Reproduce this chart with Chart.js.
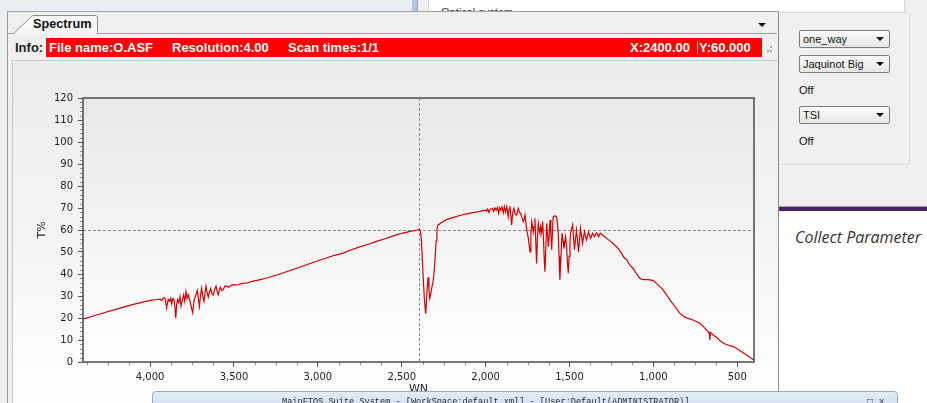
<!DOCTYPE html>
<html><head><meta charset="utf-8">
<script src="https://cdn.jsdelivr.net/npm/chart.js@4.4.0/dist/chart.umd.min.js"></script>
<style>
html,body{margin:0;padding:0;}
body{width:927px;height:403px;position:relative;overflow:hidden;background:#f0f0f0;font-family:"Liberation Sans",Arial,sans-serif;}
.abs{position:absolute;}
.dd{position:absolute;width:91px;height:18px;border:1px solid #7d7d7d;border-radius:2px;background:linear-gradient(#fbfbfb,#e6e6e6);font-size:11px;line-height:16px;padding-left:3px;box-sizing:border-box;color:#111;}
.dd .arr{position:absolute;right:5px;top:6px;width:0;height:0;border-left:4px solid transparent;border-right:4px solid transparent;border-top:4px solid #111;}
.info{position:absolute;top:38px;color:#fff;font-weight:bold;font-size:13px;line-height:19px;white-space:nowrap;}
.off{position:absolute;left:799px;font-size:11px;color:#111;}
</style></head><body>

<!-- top strip -->
<div class="abs" style="left:0;top:0;width:412px;height:12px;background:#eaeef3;"></div>
<div class="abs" style="left:412px;top:0;width:5px;height:12px;background:#b3c4db;border-right:1px solid #8ea3c0;"></div>
<div class="abs" style="left:428px;top:-2px;width:475px;height:14px;background:#fff;border:1px solid #d6d6d6;overflow:hidden;">
  <div class="abs" style="left:12px;top:7px;font-size:11px;color:#333;">Optical system</div>
</div>

<!-- right panel -->
<div class="abs" style="left:778px;top:12px;width:146px;height:195px;background:#f0f0f0;"></div>
<div class="abs" style="left:772px;top:12px;width:136px;height:151px;border:1px solid #dadada;border-radius:3px;background:#f0f0f0;"></div>
<div class="dd" style="left:799px;top:30px;">one_way<span class="arr"></span></div>
<div class="dd" style="left:799px;top:55px;">Jaquinot Big<span class="arr"></span></div>
<div class="off" style="top:84px;">Off</div>
<div class="dd" style="left:799px;top:106px;">TSI<span class="arr"></span></div>
<div class="off" style="top:135px;">Off</div>
<div class="abs" style="left:778px;top:206px;width:149px;height:1px;background:#a99cc0;"></div>
<div class="abs" style="left:778px;top:207px;width:149px;height:4px;background:#4a2466;"></div>
<div class="abs" style="left:778px;top:211px;width:149px;height:192px;background:#fff;"></div>
<div class="abs" style="left:795px;top:226px;font-family:'Open Sans',sans-serif;font-style:italic;font-size:16px;color:#333;white-space:nowrap;">Collect Parameter</div>

<!-- main panel -->
<div class="abs" style="left:7px;top:11px;width:770px;height:400px;background:#f0f0f0;border-left:1px solid #9a9a9a;border-top:1px solid #9aa5b1;border-right:1px solid #8a8a8a;"></div>
<div class="abs" style="left:8px;top:33px;width:769px;height:1px;background:#a0a0a0;"></div>
<svg class="abs" style="left:8px;top:12px" width="100" height="23">
  <defs><linearGradient id="tg" x1="0" y1="0" x2="0" y2="1"><stop offset="0" stop-color="#ffffff"/><stop offset="1" stop-color="#f2f2f2"/></linearGradient></defs>
  <path d="M5 22 L23.5 4.5 Q24.5 3.5 26 3.5 L87 3.5 Q89.5 3.5 89.5 6 L89.5 22" fill="url(#tg)" stroke="#8c8c8c"/>
</svg>
<div class="abs" style="left:33px;top:17px;font-weight:bold;font-size:12.7px;color:#111;">Spectrum</div>
<div class="abs" style="left:758px;top:23px;width:0;height:0;border-left:4px solid transparent;border-right:4px solid transparent;border-top:4px solid #111;"></div>

<div class="abs" style="left:15px;top:40px;font-weight:bold;font-size:13px;color:#222;">Info:</div>
<div class="abs" style="left:46px;top:38px;width:716px;height:19px;background:#ff0000;"></div>
<div class="info" style="left:49px;">File name:O.ASF</div>
<div class="info" style="left:172px;">Resolution:4.00</div>
<div class="info" style="left:288px;">Scan times:1/1</div>
<div class="info" style="left:630px;width:67px;overflow:hidden;">X:2400.00</div>
<div class="abs" style="left:697px;top:41px;width:1px;height:13px;background:#ffd0d0;"></div>
<div class="info" style="left:699px;">Y:60.000</div>
<div class="abs" style="left:770px;top:46px;width:2px;height:2px;background:#aaa;"></div>
<div class="abs" style="left:767px;top:50px;width:2px;height:2px;background:#aaa;"></div>
<div class="abs" style="left:770px;top:50px;width:2px;height:2px;background:#aaa;"></div>

<!-- chart panel -->
<div class="abs" style="left:12px;top:60px;width:765px;height:345px;border-top:1px solid #c8c8c8;border-left:1px solid #c8c8c8;background:linear-gradient(#ececec,#f5f5f5 55%,#ffffff);"></div>
<div class="abs" style="left:13px;top:61px;width:764px;height:342px;">
  <canvas id="c" width="764" height="342"></canvas>
</div>

<!-- bottom title bar -->
<div class="abs" style="left:152px;top:391px;width:744px;height:14px;background:linear-gradient(#e3ecf7,#d3e0f0);border:1px solid #93a9c7;border-radius:4px 4px 0 0;overflow:hidden;">
  <div class="abs" style="left:129px;top:5px;font-family:'Liberation Mono',monospace;font-size:8.6px;color:#2a2a2a;white-space:nowrap;">MainFTOS Suite System - [WorkSpace:default.xml] - [User:Default(ADMINISTRATOR)]</div>
  <div class="abs" style="left:703px;top:4px;font-size:10px;color:#444;white-space:nowrap;">_&nbsp;&nbsp;□&nbsp;&nbsp;×</div>
</div>

<script>
// ---- data ----
const wn = [4400,4300,4200,4100,4000,3960,3940,3930,3920,3911,3905,3901,3892,3883,3877,3871,3864,3857,3851,3847,3842,3837,3830,3822,3816,3812,3800,3793,3786,3779,3772,3760,3753,3746,3739,3732,3725,3718,3712,3706,3700,3693,3686,3679,3673,3667,3660,3653,3646,3639,3631,3623,3615,3607,3600,3593,3586,3580,3572,3564,3554,3544,3530,3520,3504,3480,3460,3445,3420,3385,3350,3305,3260,3226,3166,3100,3000,2900,2850,2800,2750,2700,2650,2600,2550,2500,2450,2410,2395,2388,2383,2378,2373,2366,2360,2357,2353,2348,2343,2338,2333,2328,2320,2314,2308,2302,2295,2290,2285,2260,2240,2212,2180,2150,2113,2080,2050,2016,2000,1994,1988,1980,1972,1960,1952,1945,1937,1930,1922,1916,1909,1902,1895,1888,1881,1874,1865,1860,1855,1850,1845,1838,1831,1823,1815,1810,1805,1798,1791,1783,1775,1770,1765,1758,1752,1745,1740,1735,1730,1725,1721,1716,1711,1706,1701,1696,1691,1686,1680,1676,1672,1666,1660,1655,1650,1646,1641,1636,1631,1626,1621,1616,1611,1606,1601,1597,1587,1577,1572,1567,1562,1557,1552,1547,1543,1538,1533,1528,1523,1517,1512,1507,1502,1497,1493,1487,1481,1476,1470,1464,1458,1452,1446,1440,1434,1428,1422,1416,1410,1404,1398,1392,1386,1380,1374,1368,1362,1356,1350,1344,1338,1332,1326,1320,1314,1300,1278,1250,1219,1190,1175,1159,1140,1120,1100,1080,1060,1040,1020,1000,975,950,925,901,870,841,815,792,760,722,700,680,673,667,663,660,650,643,620,600,573,550,523,490,460,444,420,400];
const tPct = [19.5,21.8,24.0,26.2,28.0,28.4,28.6,27.9,29.2,28.9,26.0,25.2,28.5,27.5,29.0,26.4,28.8,28.2,24.0,19.9,26.0,28.3,27.0,29.7,25.5,26.8,30.5,27.5,32.0,29.0,30.5,27.0,24.5,22.4,27.5,29.5,31.0,32.5,28.5,25.2,30.0,33.5,30.0,27.5,31.0,34.5,31.5,29.5,32.0,33.5,31.0,30.5,33.0,34.5,32.0,30.5,33.0,34.0,32.5,32.8,34.5,34.5,34.0,34.8,35.2,35.0,35.5,35.8,36.0,36.8,37.3,38.2,39.2,40.0,41.6,43.3,46.0,48.5,49.5,51.0,52.3,53.5,54.8,56.0,57.3,58.5,59.4,60.0,60.3,59.5,56.0,48.0,40.0,30.0,24.0,22.0,27.0,34.0,38.5,33.0,29.0,30.5,34.0,36.0,40.0,46.0,55.0,60.0,62.2,63.5,64.5,65.3,66.0,66.7,67.3,67.8,68.2,68.8,69.0,68.5,69.5,68.0,69.4,69.8,68.5,70.0,69.0,70.2,67.5,70.2,69.0,70.5,67.8,70.6,68.2,70.6,66.0,69.5,70.9,67.0,62.3,68.0,69.8,67.0,66.8,68.5,69.8,68.0,67.6,65.5,63.8,65.0,66.8,62.0,59.0,56.2,53.0,50.1,58.0,63.8,62.0,59.0,61.5,65.3,55.0,44.8,56.0,63.0,60.0,58.5,61.5,59.0,63.8,56.0,46.0,41.0,52.0,63.0,58.0,52.4,58.0,64.5,58.0,51.0,60.0,66.0,66.5,66.0,63.0,58.5,48.0,37.3,46.0,55.0,58.5,55.0,51.5,54.5,57.0,52.0,45.0,40.3,48.0,55.0,58.5,60.5,62.3,57.0,51.0,56.0,60.0,55.0,50.0,55.5,60.8,57.0,54.0,57.0,59.2,57.0,55.5,57.5,59.2,57.5,56.2,57.5,58.5,57.5,57.0,58.0,58.8,58.0,57.0,58.2,58.5,57.5,56.2,54.5,52.4,49.5,47.5,46.4,44.0,42.5,40.0,38.0,37.4,37.5,37.3,37.0,35.3,33.5,31.0,28.2,25.0,22.1,20.5,19.8,19.0,17.6,16.0,14.3,13.8,13.0,10.0,13.5,12.8,12.3,11.0,9.5,8.2,7.6,7.0,5.5,4.0,3.2,1.8,0.9];
const xTicks = [4000,3500,3000,2500,2000,1500,1000,500];
const yTicks = [0,10,20,30,40,50,60,70,80,90,100,110,120];
const xMin = 400, xMax = 4400, yMin = 0, yMax = 120;
const cursorX = 2400, cursorY = 60;

const decor = {
  id: 'decor',
  beforeDraw(chart) {
    const {ctx, chartArea: a} = chart;
    const g = ctx.createLinearGradient(0, a.top, 0, a.bottom);
    g.addColorStop(0, '#e8e8e8'); g.addColorStop(1, '#ffffff');
    ctx.save(); ctx.fillStyle = g;
    ctx.fillRect(a.left, a.top, a.right - a.left, a.bottom - a.top);
    ctx.restore();
  },
  beforeDatasetsDraw(chart) {
    const {ctx, chartArea: a, scales: {x, y}} = chart;
    const px = Math.round(x.getPixelForValue(cursorX)) + 0.5;
    const py = Math.round(y.getPixelForValue(cursorY)) + 0.5;
    ctx.save(); ctx.strokeStyle = '#8a8a8a'; ctx.lineWidth = 1; ctx.setLineDash([3, 2]);
    ctx.beginPath(); ctx.moveTo(px, a.top); ctx.lineTo(px, a.bottom);
    ctx.moveTo(a.left, py); ctx.lineTo(a.right, py); ctx.stroke(); ctx.restore();
  },
  afterDraw(chart) {
    const {ctx, chartArea: a, scales: {x, y}} = chart;
    ctx.save();
    ctx.strokeStyle = '#8c8c8c'; ctx.lineWidth = 1;
    ctx.beginPath();
    for (let v = Math.ceil(xMin / 125) * 125; v <= xMax; v += 125) {
      if (v % 500 === 0) continue;
      const px = Math.round(x.getPixelForValue(v)) + 0.5;
      ctx.moveTo(px, a.bottom); ctx.lineTo(px, a.bottom + 3);
    }
    for (let v = yMin; v <= yMax; v += 2) {
      if (v % 10 === 0) continue;
      const py = Math.round(y.getPixelForValue(v)) + 0.5;
      ctx.moveTo(a.left - 3, py); ctx.lineTo(a.left, py);
    }
    ctx.stroke();
    ctx.strokeStyle = '#555'; ctx.lineWidth = 1.6;
    ctx.strokeRect(a.left, a.top, a.right - a.left, a.bottom - a.top);
    ctx.restore();
  }
};

const tickFont = {family: 'DejaVu Sans', size: 10};
new Chart(document.getElementById('c'), {
  type: 'line',
  data: {
    datasets: [{
      data: wn.map((w, i) => ({x: w, y: tPct[i]})),
      borderColor: '#d00000',
      borderWidth: 1.2,
      pointRadius: 0,
      tension: 0,
      fill: false
    }]
  },
  options: {
    responsive: false,
    animation: false,
    devicePixelRatio: 1,
    parsing: false,
    layout: {padding: {left: 0, right: 23, top: 37, bottom: 0}},
    plugins: {legend: {display: false}, tooltip: {enabled: false}},
    scales: {
      x: {
        type: 'linear', reverse: true, min: xMin, max: xMax,
        afterBuildTicks: s => { s.ticks = xTicks.map(v => ({value: v})); },
        afterFit: s => { s.height = 41; },
        border: {display: false},
        grid: {drawOnChartArea: false, drawTicks: true, tickLength: 5, tickColor: '#555'},
        ticks: {autoSkip: false, maxRotation: 0, padding: 4, color: '#222', font: tickFont,
                callback: v => v.toLocaleString('en-US')},
        title: {display: true, text: 'WN', color: '#222', font: {family: 'DejaVu Sans', size: 11}, padding: {top: 0, bottom: 7}}
      },
      y: {
        type: 'linear', min: yMin, max: yMax,
        afterBuildTicks: s => { s.ticks = yTicks.map(v => ({value: v})); },
        afterFit: s => { s.width = 70; },
        border: {display: false},
        grid: {drawOnChartArea: false, drawTicks: true, tickLength: 5, tickColor: '#555'},
        ticks: {padding: 5, color: '#222', font: tickFont},
        title: {display: true, text: 'T%', color: '#222', font: {family: 'DejaVu Sans', size: 11}, padding: {top: 23, bottom: 0}}
      }
    }
  },
  plugins: [decor]
});
</script>
</body></html>
